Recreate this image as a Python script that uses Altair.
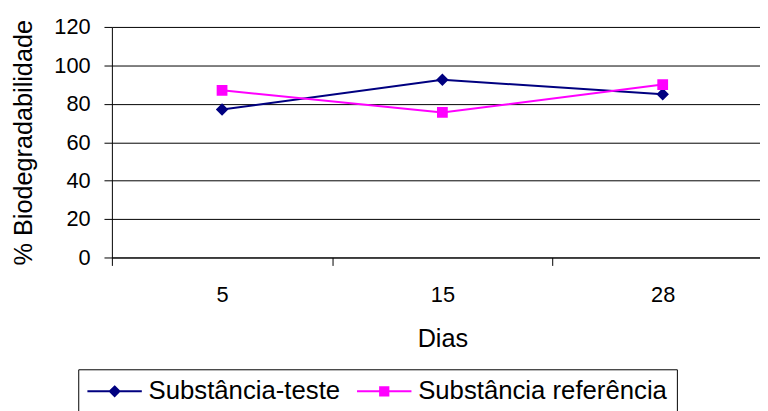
import altair as alt
import pandas as pd

# ---- data ----
dias = [5, 15, 28]
series = ["Substância-teste", "Substância referência"]
teste = [77, 92.5, 85]
referencia = [87, 75.5, 90]
cores = ["#000080", "#FF00FF"]
y_ticks = [0, 20, 40, 60, 80, 100, 120]

rows = []
for nome, vals in zip(series, [teste, referencia]):
    for d, v in zip(dias, vals):
        rows.append({"dia": d, "valor": v, "serie": nome})
df = pd.DataFrame(rows)

FONT = "Liberation Sans"
# legend symbol = line + marker; the line part has no area, so it only shows when stroked
DIAMOND = "M-2.5,0L2.5,0M0,-0.44L0.44,0L0,0.44L-0.44,0Z"
SQUARE = "M-2.5,0L2.5,0M-0.38,-0.38L0.38,-0.38L0.38,0.38L-0.38,0.38Z"

legenda = alt.Legend(
    title=None, orient="none", legendX=-34, legendY=346, direction="horizontal",
    padding=9.25, columnPadding=12.5, symbolOffset=14.5, labelOffset=21.25,
    symbolSize=484, symbolStrokeWidth=2, strokeColor="#000000",
    labelFont=FONT, labelFontSize=26, labelColor="#000000", labelLimit=500,
)

x_enc = alt.X(
    "dia:O",
    scale=alt.Scale(type="band", range=[0, 668], paddingInner=0, paddingOuter=0),
    bandPosition=0.5,
    axis=alt.Axis(
        title="Dias", labelAngle=0, tickBand="extent", tickSize=8, labelPadding=19.4,
        labelFont=FONT, labelFontSize=22, titleFont=FONT, titleFontSize=25.5,
        titleFontWeight="normal", titleY=90.3, titleBaseline="alphabetic",
        domainColor="#000000", tickColor="#000000", labelColor="#000000",
        titleColor="#000000", grid=False,
    ),
)

y_enc = alt.Y(
    "valor:Q",
    scale=alt.Scale(domain=[0, 120]),
    axis=alt.Axis(
        title="% Biodegradabilidade", values=y_ticks, tickSize=8, labelPadding=14,
        labelFont=FONT, labelFontSize=22, titleFont=FONT, titleFontSize=25.5,
        titleFontWeight="normal", titleX=-81, titleBaseline="alphabetic",
        grid=True, gridColor="#000000", domainColor="#000000", tickColor="#000000",
        labelColor="#000000", titleColor="#000000",
    ),
)

cor = alt.Color("serie:N", scale=alt.Scale(domain=series, range=cores), legend=legenda)
forma = alt.Shape("serie:N", scale=alt.Scale(domain=series, range=[DIAMOND, SQUARE]), legend=legenda)

linhas = alt.Chart(df).mark_line(strokeWidth=2).encode(x=x_enc, y=y_enc, color=cor)

pontos = alt.Chart(df).mark_point(filled=True, size=820, opacity=1).encode(
    x=x_enc, y=y_enc, color=cor, shape=forma
)

chart = (
    alt.layer(linhas, pontos)
    .properties(
        width=655, height=233,
        padding={"left": 105, "top": 17, "right": 0, "bottom": 153},
        autosize=alt.AutoSizeParams(type="none"),
        background="#ffffff",
    )
    .configure(font=FONT)
    .configure_view(strokeWidth=0)
)

chart.save("out.html", embed_options={"renderer": "svg", "actions": False})
